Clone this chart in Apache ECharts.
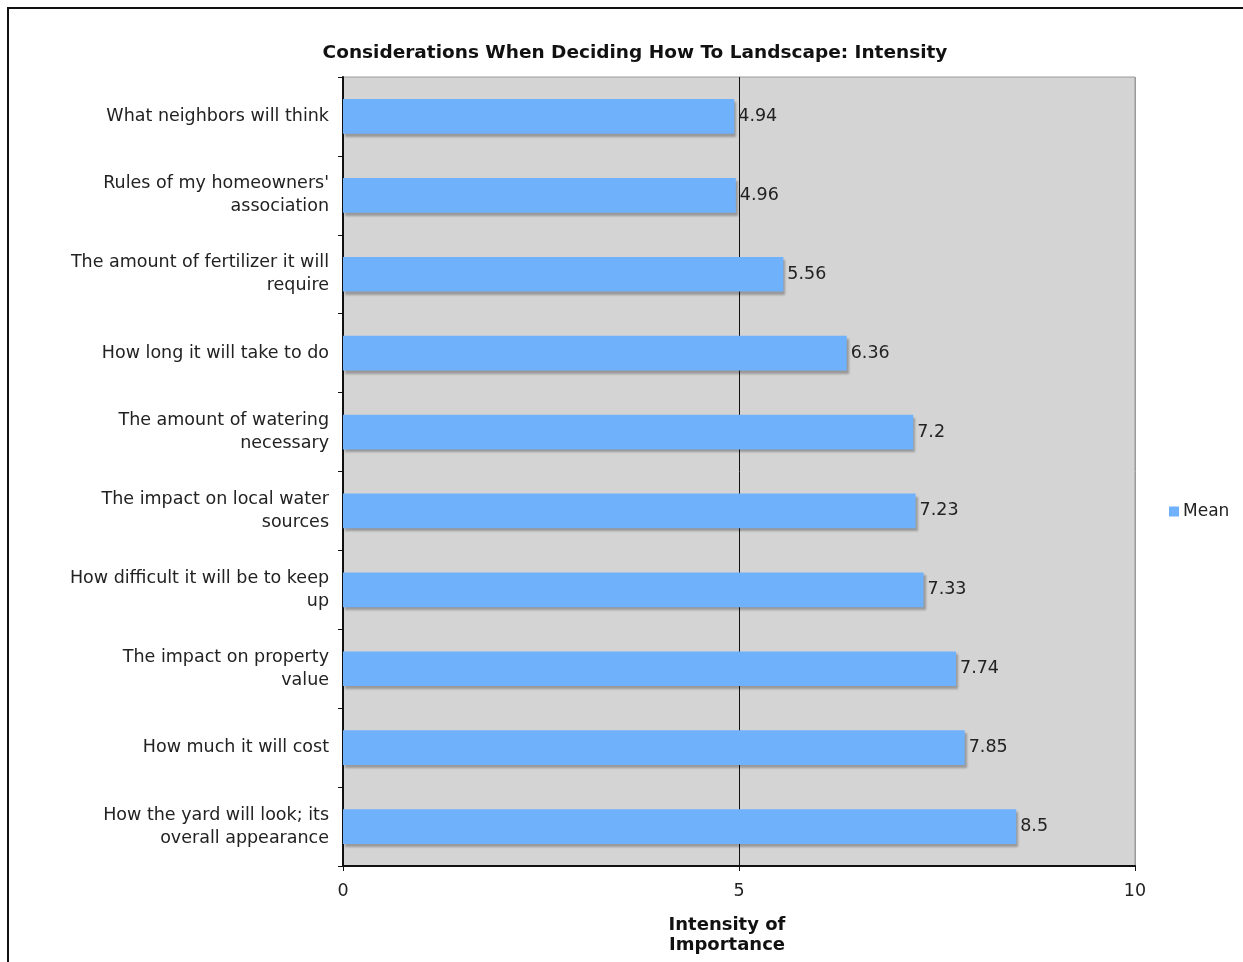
<!DOCTYPE html>
<html>
<head>
<meta charset="utf-8">
<script src="https://cdn.jsdelivr.net/npm/echarts@6/dist/echarts.min.js"></script>
<style>
html,body{margin:0;padding:0;background:#fff;}
#chart{width:1243px;height:962px;}
</style>
</head>
<body>
<div id="chart"></div>
<script>
var categories = [
  "What neighbors will think",
  "Rules of my homeowners'\nassociation",
  "The amount of fertilizer it will\nrequire",
  "How long it will take to do",
  "The amount of watering\nnecessary",
  "The impact on local water\nsources",
  "How difficult it will be to keep\nup",
  "The impact on property\nvalue",
  "How much it will cost",
  "How the yard will look; its\noverall appearance"
];
var meanValues = [4.94, 4.96, 5.56, 6.36, 7.2, 7.23, 7.33, 7.74, 7.85, 8.5];
var xTicks = [0, 5, 10];

var font = "'DejaVu Sans', Verdana, sans-serif";
var chart = echarts.init(document.getElementById('chart'));
chart.setOption({
  animation: false,
  backgroundColor: '#fff',
  textStyle: { fontFamily: font },
  graphic: [{
    type: 'rect',
    shape: { x: 8, y: 8, width: 1400, height: 1100 },
    style: { fill: 'none', stroke: '#111', lineWidth: 2 },
    z: 100
  }],
  title: {
    text: 'Considerations When Deciding How To Landscape: Intensity',
    left: 630, top: 39, textAlign: 'center',
    textStyle: { fontFamily: font, fontWeight: 'bold', fontSize: 18.5, color: '#111' }
  },
  legend: {
    data: ['Mean'],
    left: 1164, top: 498,
    itemWidth: 10, itemHeight: 10, itemGap: 4,
    icon: 'rect',
    textStyle: { fontFamily: font, fontSize: 17, color: '#222', padding: [0,0,0,-1] }
  },
  grid: {
    left: 343, right: 108, top: 77, bottom: 96,
    show: true, backgroundColor: '#d4d4d4', borderColor: '#9a9a9a', borderWidth: 1
  },
  xAxis: {
    type: 'value', min: xTicks[0], max: xTicks[xTicks.length-1], interval: 5,
    name: 'Intensity of\nImportance', nameLocation: 'middle', nameGap: 49,
    nameTextStyle: { fontFamily: font, fontWeight: 'bold', fontSize: 18, color: '#111', lineHeight: 20, padding: [0, 24, 0, 0] },
    axisLine: { show: true, lineStyle: { color: '#111', width: 2 } },
    axisTick: { show: true, length: 5, lineStyle: { color: '#111' } },
    axisLabel: { fontFamily: font, fontSize: 17.5, color: '#222', margin: 16 },
    splitLine: { show: true, lineStyle: { color: ['#111', '#111', '#9a9a9a'], width: 1 } }
  },
  yAxis: {
    type: 'category', data: categories, inverse: true,
    axisLine: { show: true, lineStyle: { color: '#111', width: 2 } },
    axisTick: { show: true, length: 5, lineStyle: { color: '#111' } },
    axisLabel: { fontFamily: font, fontSize: 17.5, color: '#222', margin: 14, lineHeight: 23, align: 'right', padding: [4, 0, 0, 0] },
    splitLine: { show: false }
  },
  series: [{
    name: 'Mean', type: 'bar', data: meanValues,
    barWidth: '44%',
    itemStyle: {
      color: '#6fb1fa',
      shadowColor: 'rgba(0,0,0,0.28)', shadowOffsetX: 2, shadowOffsetY: 3, shadowBlur: 2
    },
    label: {
      show: true, position: 'right', distance: 4,
      fontFamily: font, fontSize: 17.5, color: '#222', padding: [3, 0, 0, 0]
    }
  }]
});
</script>
</body>
</html>
